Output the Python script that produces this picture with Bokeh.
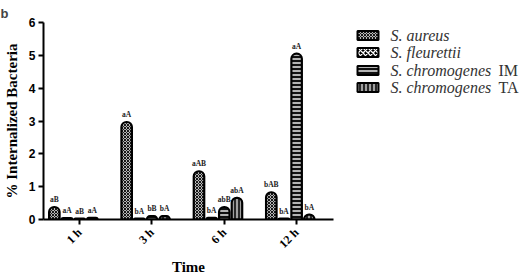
import math
from bokeh.plotting import figure
from bokeh.models import FixedTicker, ColumnDataSource, Range1d
from bokeh.layouts import row
from bokeh.embed import file_html
from bokeh.resources import INLINE
from bokeh.core.properties import value

# ---- data ----
times = ["1 h", "3 h", "6 h", "12 h"]
species = ["S. aureus", "S. fleurettii", "S. chromogenes", "S. chromogenes"]
species_suffix = ["IM", "TA"]
aureus = [0.38, 2.97, 1.47, 0.83]
fleurettii = [0.04, 0.03, 0.05, 0.03]
chrom_im = [0.03, 0.10, 0.38, 5.05]
chrom_ta = [0.05, 0.10, 0.66, 0.15]
aureus_sig = ["aB", "aA", "aAB", "bAB"]
fleurettii_sig = ["aA", "bA", "bA", "bA"]
chrom_im_sig = ["aB", "bB", "abB", "aA"]
chrom_ta_sig = ["aA", "bA", "abA", "bA"]
y_ticks = [0, 1, 2, 3, 4, 5, 6]

series_vals = [aureus, fleurettii, chrom_im, chrom_ta]
series_sig = [aureus_sig, fleurettii_sig, chrom_im_sig, chrom_ta_sig]

# ---- styles ----
offsets = [-0.35, -0.175, 0.0, 0.175]
styles = [
    dict(fill_color="white", hatch_pattern="diagonal_cross", hatch_color="#111111", hatch_scale=3, hatch_weight=1.1),
    dict(fill_color="black", hatch_pattern="diagonal_cross", hatch_color="white", hatch_scale=5, hatch_weight=1.3),
    dict(fill_color="#111111", hatch_pattern="horizontal_line", hatch_color="#b4b4b4", hatch_scale=4, hatch_weight=2),
    dict(fill_color="#a0a0a0", hatch_pattern="vertical_line", hatch_color="black", hatch_scale=4, hatch_weight=1.5),
]

TOP, FH, LEFT, FW, MAIN_W = 22, 197, 43, 290, 345
BOTTOM = 276 - TOP - FH

p = figure(x_range=Range1d(0.5, 4.51), y_range=Range1d(0, 6),
           output_backend="svg", toolbar_location=None,
           frame_width=FW, frame_height=FH,
           min_border_left=LEFT, min_border_right=MAIN_W - LEFT - FW,
           min_border_top=TOP, min_border_bottom=BOTTOM)
p.xgrid.visible = False
p.ygrid.visible = False
p.outline_line_color = None
p.title.text = "b"
p.title.align = "left"
p.title.offset = -LEFT
p.title.text_font = "Liberation Sans"
p.title.text_font_style = "bold"
p.title.text_font_size = "13px"
p.title.standoff = 4

for i in range(4):
    xs = [k + 1 + offsets[i] for k in range(len(times))]
    src = ColumnDataSource(dict(x=xs, top=series_vals[i], sig=series_sig[i]))
    p.vbar(x="x", top="top", width=0.145, source=src, line_color="black", line_width=2.2,
           border_radius=(5, 5, 0, 0), **styles[i])
    p.text(x="x", y="top", text="sig", source=src, text_align="center", text_baseline="bottom",
           y_offset=-3, text_font=value("Liberation Serif"), text_font_style="bold",
           text_font_size="7.5px", text_color="#222222")

p.xaxis.ticker = FixedTicker(ticks=[1, 2, 3, 4])
p.xaxis.major_label_overrides = {i + 1: t for i, t in enumerate(times)}
p.xaxis.major_label_orientation = math.pi / 4
p.yaxis.ticker = FixedTicker(ticks=y_ticks)
for ax in (p.xaxis[0], p.yaxis[0]):
    ax.axis_line_width = 2
    ax.axis_line_color = "black"
    ax.major_tick_line_width = 2
    ax.major_tick_line_color = "black"
    ax.major_tick_out = 5
    ax.major_tick_in = 0
    ax.minor_tick_line_color = None
    ax.axis_label_text_font = "Liberation Serif"
    ax.axis_label_text_font_style = "bold"
    ax.axis_label_text_color = "black"
    ax.major_label_text_color = "black"
p.xaxis.major_label_text_font = "Liberation Serif"
p.xaxis.major_label_text_font_style = "bold"
p.xaxis.major_label_text_font_size = "12px"
p.xaxis.major_label_standoff = 6
p.yaxis.major_label_text_font = "Liberation Sans"
p.yaxis.major_label_text_font_style = "bold"
p.yaxis.major_label_text_font_size = "12px"
p.yaxis.major_label_standoff = 3
p.xaxis.axis_label = "Time"
p.xaxis.axis_label_text_font_size = "15px"
p.xaxis.axis_label_standoff = 0
p.yaxis.axis_label = "% Internalized Bacteria"
p.yaxis.axis_label_text_font_size = "15px"
p.yaxis.axis_label_standoff = 6

# ---- legend panel: its frame spans the same rows as the main frame, ranges in page pixels ----
LW = 528 - MAIN_W
lg = figure(x_range=Range1d(MAIN_W, 528), y_range=Range1d(TOP + FH, TOP),
            output_backend="svg", toolbar_location=None,
            frame_width=LW, frame_height=FH,
            min_border_left=0, min_border_right=0, min_border_top=TOP, min_border_bottom=BOTTOM)
lg.axis.visible = False
lg.xgrid.visible = False
lg.ygrid.visible = False
lg.outline_line_color = None

row_y = [35, 52, 70, 87]
for i in range(4):
    lg.rect(x=[367.5], y=[row_y[i]], width=21, height=9, line_color="black", line_width=2, **styles[i])
lg.text(x=[390] * 4, y=row_y, text=species, text_baseline="middle", text_align="left",
        text_font=value("Liberation Serif"), text_font_style="italic", text_font_size="16px",
        text_color="#333333")
lg.text(x=[498, 498], y=row_y[2:], text=species_suffix, text_baseline="middle", text_align="left",
        text_font=value("Liberation Serif"), text_font_style="normal", text_font_size="16px",
        text_color="#333333")

layout = row(p, lg)
open("out.html", "w").write(file_html(layout, INLINE))
